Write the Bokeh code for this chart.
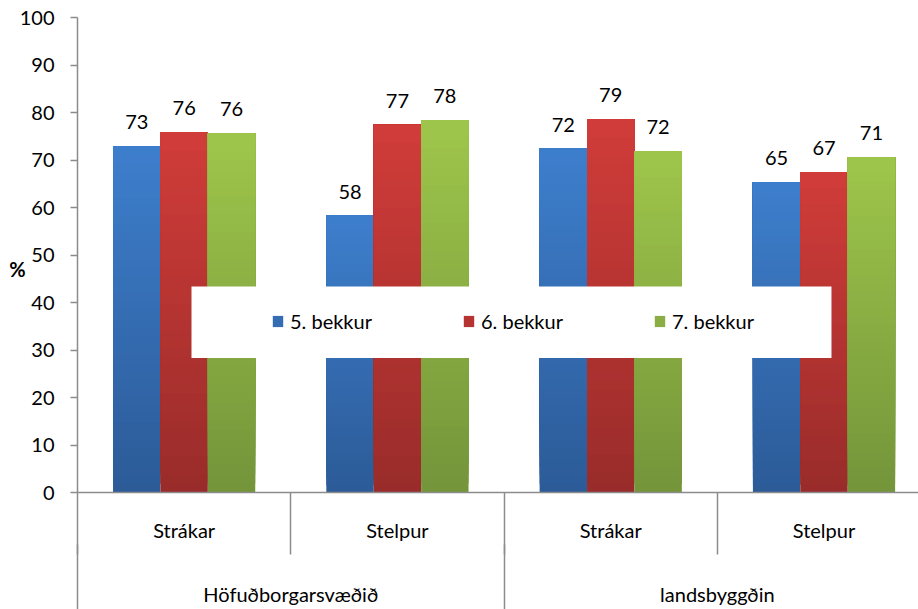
from bokeh.plotting import figure
from bokeh.models import (Range1d, FixedTicker, LinearAxis, Legend, LegendItem,
                          LabelSet, ColumnDataSource, BoxAnnotation)
from bokeh.core.properties import value
from bokeh.embed import file_html
from bokeh.resources import INLINE

# ---------------- data ----------------
groups = ["Höfuðborgarsvæðið", "landsbyggðin"]
categories = ["Strákar", "Stelpur", "Strákar", "Stelpur"]
series = ["5. bekkur", "6. bekkur", "7. bekkur"]
bekkur5 = [72.9, 58.3, 72.4, 65.3]
bekkur6 = [75.8, 77.4, 78.6, 67.4]
bekkur7 = [75.6, 78.4, 71.8, 70.6]
labels5 = ["73", "58", "72", "65"]
labels6 = ["76", "77", "79", "67"]
labels7 = ["76", "78", "72", "71"]
y_ticks = [0, 10, 20, 30, 40, 50, 60, 70, 80, 90, 100]
y_title = "%"

# ---------------- style ----------------
FONT = "Lato"
GREY = "#8c8c8c"
light_cols = ["#3d7ecc", "#d03c39", "#9ec54b"]
dark_cols = ["#2c5b98", "#992c2a", "#74953a"]
bar_w = 1 / 4.5
offsets = [-bar_w, 0.0, bar_w]
N = 40


def mix(c1, c2, t):
    a = [int(c1[i:i + 2], 16) for i in (1, 3, 5)]
    b = [int(c2[i:i + 2], 16) for i in (1, 3, 5)]
    return "#%02x%02x%02x" % tuple(round(a[j] + (b[j] - a[j]) * t) for j in range(3))


p = figure(width=918, height=609, x_range=Range1d(0, 3.943), y_range=Range1d(0, 100),
           output_backend="svg", toolbar_location=None, x_axis_location=None,
           min_border_left=77, min_border_right=0, min_border_top=17, min_border_bottom=117)
p.outline_line_color = None
p.grid.visible = False
p.background_fill_color = "white"

renderers = []
all_vals = [bekkur5, bekkur6, bekkur7]
all_labels = [labels5, labels6, labels7]
for s in range(3):
    vals = all_vals[s]
    xs, bottoms, tops, colors = [], [], [], []
    for k in range(N):
        col = mix(dark_cols[s], light_cols[s], k / (N - 1))
        for i, v in enumerate(vals):
            xs.append(i + 0.5 + offsets[s])
            bottoms.append(v * k / N)
            tops.append(v)
            colors.append(col)
    src = ColumnDataSource(dict(x=xs, bottom=bottoms, top=tops, color=colors))
    r = p.vbar(x="x", bottom="bottom", top="top", width=bar_w, fill_color="color",
               line_color=None, source=src)
    renderers.append(r)
    lsrc = ColumnDataSource(dict(x=[i + 0.5 + offsets[s] for i in range(len(vals))],
                                 y=vals, t=all_labels[s]))
    p.add_layout(LabelSet(x="x", y="y", text="t", source=lsrc, y_offset=17,
                          text_align="center", text_baseline="alphabetic",
                          text_font=value(FONT), text_font_size=value("20px"),
                          text_color="black"))

# y axis
ya = p.yaxis[0]
ya.ticker = FixedTicker(ticks=y_ticks, minor_ticks=[])
ya.axis_line_color = GREY
ya.axis_line_width = 1.5
ya.major_tick_line_color = GREY
ya.major_tick_line_width = 1.5
ya.major_tick_in = 0
ya.major_tick_out = 7
ya.minor_tick_line_color = None
ya.major_label_text_font = FONT
ya.major_label_text_font_size = "20px"
ya.major_label_text_color = "black"
ya.major_label_standoff = 16
ya.axis_label = "\n" + y_title
ya.axis_label_text_font = FONT
ya.axis_label_text_font_size = "20px"
ya.axis_label_text_font_style = "bold"
ya.axis_label_text_color = "black"
ya.axis_label_standoff = -9
try:
    ya.axis_label_orientation = "horizontal"
except AttributeError:
    pass

# category axis
cat_pos = [i + 0.5 for i in range(len(categories))]
ax1 = LinearAxis(ticker=FixedTicker(ticks=cat_pos, minor_ticks=list(range(len(categories) + 1))),
                 major_label_overrides={cat_pos[i]: categories[i] for i in range(len(categories))},
                 major_tick_in=0, major_tick_out=0, minor_tick_in=0, minor_tick_out=62,
                 axis_line_color=GREY, axis_line_width=1.5,
                 minor_tick_line_color=GREY, minor_tick_line_width=1.5,
                 major_tick_line_color=None,
                 major_label_standoff=-37, major_label_text_font=FONT,
                 major_label_text_font_size="20px", major_label_text_color="black")
p.add_layout(ax1, "below")

# group axis
grp_pos = [2 * i + 1 for i in range(len(groups))]
ax2 = LinearAxis(ticker=FixedTicker(ticks=grp_pos, minor_ticks=[0, 2, 4]),
                 major_label_overrides={grp_pos[i]: groups[i] for i in range(len(groups))},
                 major_tick_in=0, major_tick_out=0, minor_tick_in=0, minor_tick_out=90,
                 axis_line_color=None, major_tick_line_color=None,
                 minor_tick_line_color=GREY, minor_tick_line_width=1.5,
                 major_label_standoff=-53, major_label_text_font=FONT,
                 major_label_text_font_size="20px", major_label_text_color="black")
p.add_layout(ax2, "below")

# legend background box
p.add_layout(BoxAnnotation(left=0.5345, right=3.535, bottom=28.3, top=43.35,
                           fill_color="white", fill_alpha=1.0, line_color=None))

mid = (N // 2) * len(categories)
legend = Legend(items=[LegendItem(label=series[s], renderers=[renderers[s]], index=mid)
                       for s in range(3)],
                location=(194, 159), orientation="horizontal",
                glyph_width=13, glyph_height=14, label_standoff=6, label_width=120,
                spacing=52, padding=0, margin=0,
                background_fill_alpha=0, border_line_alpha=0,
                label_text_font=FONT, label_text_font_size="20px", label_text_color="black")
p.add_layout(legend)

open("out.html", "w").write(file_html(p, INLINE))
